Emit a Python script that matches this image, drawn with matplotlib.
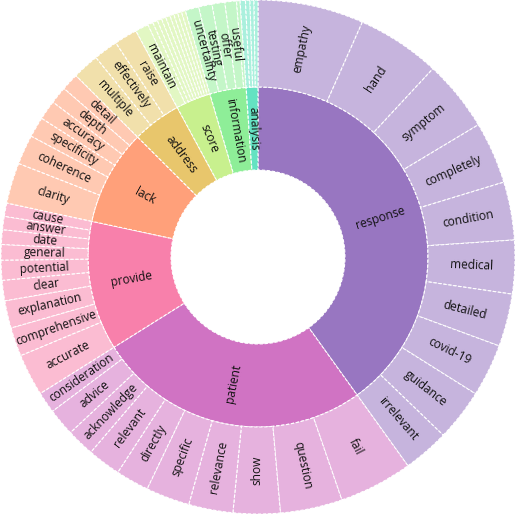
import matplotlib
matplotlib.use("Agg")
import matplotlib.pyplot as plt
from matplotlib.patches import Wedge
import numpy as np

plt.rcParams['font.family'] = ['Open Sans', 'DejaVu Sans']

# inner ring: parent words, clockwise from 12 o'clock
parents = ["response", "patient", "provide", "lack", "address",
           "score", "information", "analysis"]
parent_colors = ["#9876c1", "#d073c3", "#f880ab", "#ffa07a", "#e8c66c",
                 "#c8f08e", "#8eee98", "#64e2c2"]
child_colors = ["#c6b4dd", "#e6b2de", "#fbbcd2", "#ffc9b2", "#f1e0ab",
                "#e2f7c3", "#c4f6c8", "#aaf0dd"]

# outer ring: child words and their sizes
response_words = ["empathy", "hand", "symptom", "completely", "condition",
                  "medical", "detailed", "covid-19", "guidance", "irrelevant"]
response_vals = [23.9, 18.9, 16.1, 14.0, 13.1, 12.1, 11.9, 11.9, 11.7, 10.4]

patient_words = ["fail", "question", "show", "relevance", "specific",
                 "directly", "relevant", "acknowledge", "advice", "consideration"]
patient_vals = [16.6, 14.0, 10.6, 10.0, 9.9, 7.5, 7.5, 6.3, 6.2, 4.8]

provide_words = ["accurate", "comprehensive", "explanation", "clear",
                 "potential", "general", "date", "answer", "cause"]
provide_vals = [9.5, 6.5, 6.2, 4.6, 4.5, 3.5, 3.3, 3.0, 3.0]

lack_words = ["clarity", "coherence", "specificity", "accuracy", "depth", "detail"]
lack_vals = [9.2, 6.7, 4.6, 4.4, 3.9, 3.9]

address_words = ["multiple", "effectively", "raise"]
address_vals = [6.0, 5.5, 5.2]

# thin slices without room for a label are left blank
score_words = ["maintain", "", "", "", "", "", "", "", "", ""]
score_vals = [3.0, 1.2, 1.1, 1.0, 1.0, 1.0, 0.9, 0.9, 0.9, 0.9]

information_words = ["uncertainty", "testing", "offer", "useful", ""]
information_vals = [3.1, 3.0, 2.9, 2.6, 0.8]

analysis_words = ["", "", "", ""]
analysis_vals = [1.2, 1.0, 0.9, 0.9]

children = [
    (response_words, response_vals),
    (patient_words, patient_vals),
    (provide_words, provide_vals),
    (lack_words, lack_vals),
    (address_words, address_vals),
    (score_words, score_vals),
    (information_words, information_vals),
    (analysis_words, analysis_vals),
]

W, H = 516, 514
fig = plt.figure(figsize=(W / 100, H / 100), dpi=100)
ax = fig.add_axes([0, 0, 1, 1])
ax.set_xlim(0, W)
ax.set_ylim(0, H)
ax.axis("off")

cx, cy = 258, 257
r_hole, r_mid, r_out = 87, 170, 257
total = sum(sum(v) for _, v in children)
scale = 360.0 / total
edge = dict(edgecolor="white", linewidth=0.8, linestyle=(0, (3, 1.5)))


def label(text, a0, a1, r):
    mid = 90 - (a0 + a1) / 2
    rad = np.radians(mid)
    rot = ((mid + 90) % 180) - 90
    ax.text(cx + r * np.cos(rad), cy + r * np.sin(rad), text,
            rotation=rot, rotation_mode="anchor", ha="center", va="center",
            fontsize=8.6, color="#111111")


start = 0.0
for name, pc, cc, (words, vals) in zip(parents, parent_colors, child_colors, children):
    p_end = start + sum(vals) * scale
    ax.add_patch(Wedge((cx, cy), r_mid, 90 - p_end, 90 - start,
                       width=r_mid - r_hole, facecolor=pc, **edge))
    label(name, start, p_end, (r_hole + r_mid) / 2)
    a = start
    for w, v in zip(words, vals):
        b = a + v * scale
        ax.add_patch(Wedge((cx, cy), r_out, 90 - b, 90 - a,
                           width=r_out - r_mid, facecolor=cc, **edge))
        if w:
            label(w, a, b, (r_mid + r_out) / 2)
        a = b
    start = p_end

fig.savefig("out.png", dpi=100)
